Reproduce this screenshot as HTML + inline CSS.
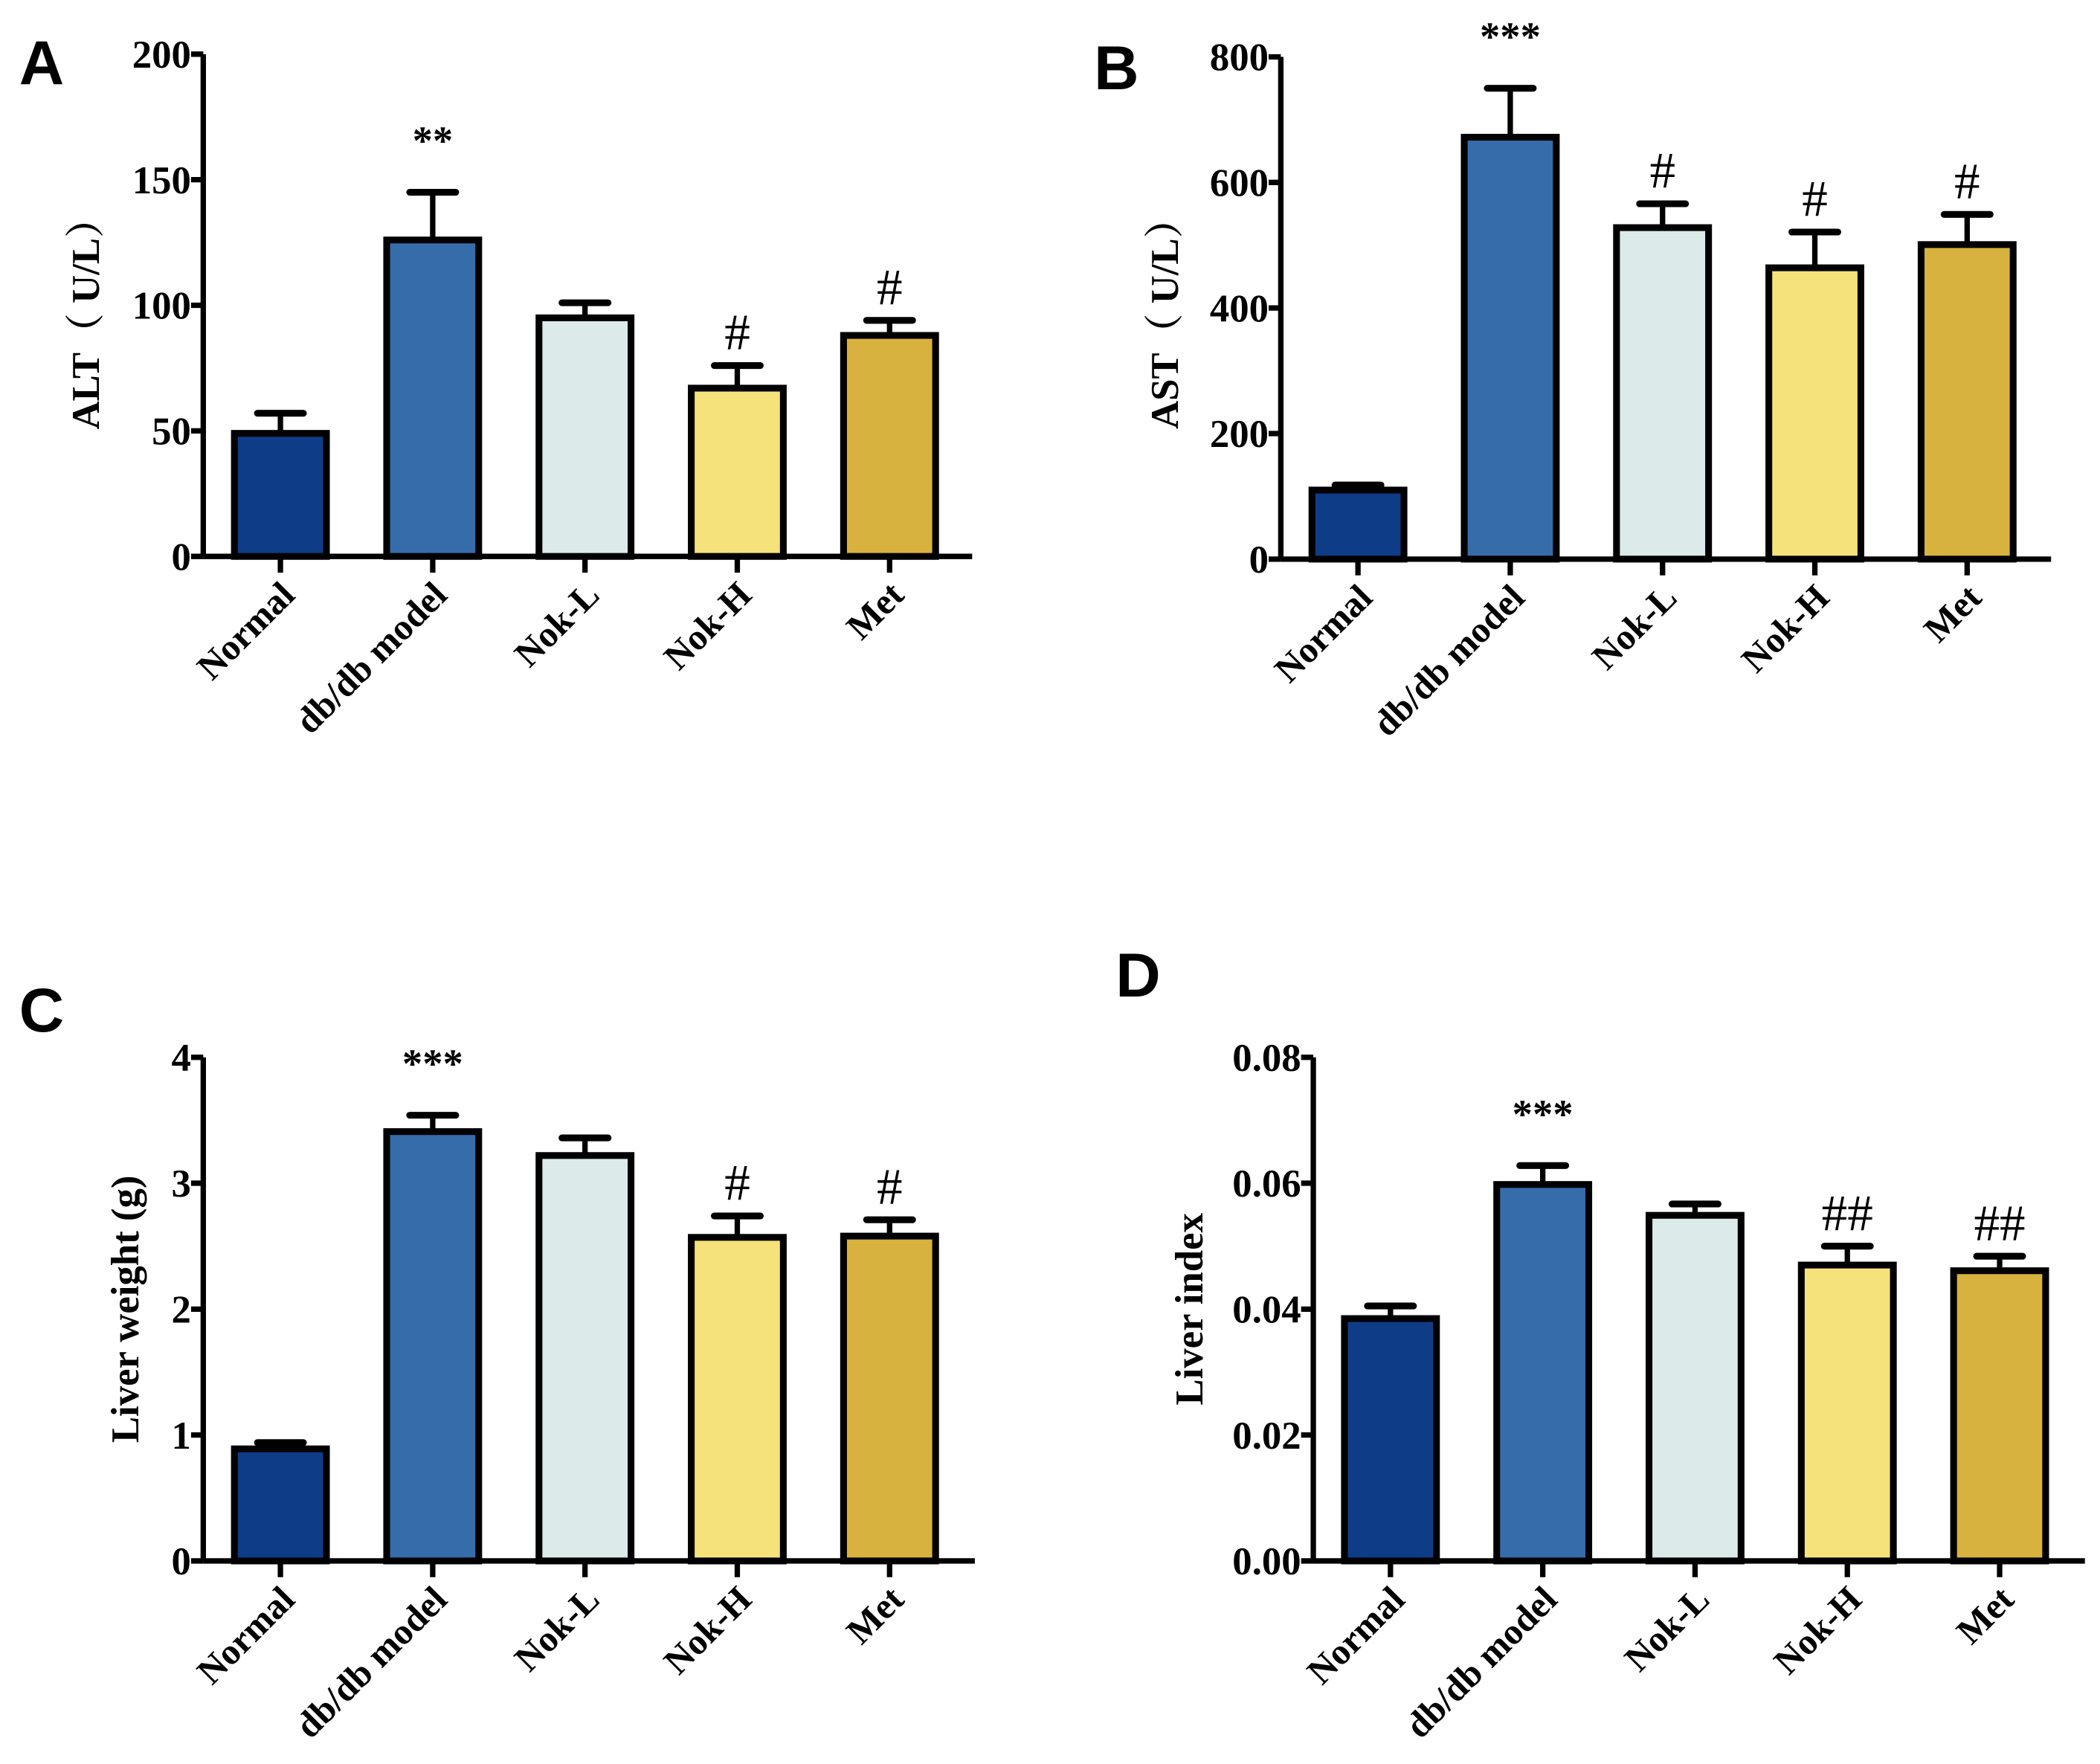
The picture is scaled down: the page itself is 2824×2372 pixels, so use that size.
<!DOCTYPE html>
<html><head><meta charset="utf-8"><style>
html,body{margin:0;padding:0;background:#fff;}
svg{display:block;}
text{font-family:"Liberation Serif","Noto Serif CJK SC",serif;font-weight:bold;fill:#000;}
.lbl{font-family:"Liberation Sans",sans-serif;font-weight:bold;}
</style></head><body>
<svg id="fig" width="2824" height="2372" viewBox="0 0 1551 1303" xmlns="http://www.w3.org/2000/svg"></svg>
<script>
const categories = ["Normal","db/db model","Nok-L","Nok-H","Met"];
const colors = ["#0f3c87","#376caa","#dceaea","#f6e27a","#d8b23e"];
const altValues = [49,126,95,67,88];
const altErrors = [8,19,6,9,6];
const altSig = ["","**","","#","#"];
const astValues = [110,672,528,464,501];
const astErrors = [8,78,38,57,48];
const astSig = ["","***","#","#","#"];
const weightValues = [0.89,3.41,3.22,2.57,2.58];
const weightErrors = [0.05,0.13,0.14,0.17,0.13];
const weightSig = ["","***","","#","#"];
const indexValues = [0.0385,0.0598,0.0549,0.047,0.0461];
const indexErrors = [0.002,0.003,0.0018,0.003,0.0023];
const indexSig = ["","***","","##","##"];
const altTicks = [0,50,100,150,200];
const astTicks = [0,200,400,600,800];
const weightTicks = [0,1,2,3,4];
const indexTicks = [0,0.02,0.04,0.06,0.08];
const indexTickLabels = ["0.00","0.02","0.04","0.06","0.08"];

const NS="http://www.w3.org/2000/svg";
const svg=document.getElementById('fig');
function mk(tag,attrs,parent){const e=document.createElementNS(NS,tag);for(const k in attrs)e.setAttribute(k,attrs[k]);(parent||svg).appendChild(e);return e;}

function panel(o){
  const g=mk('g',{});
  
  
  const yScale=v=>o.y0-(v-o.min)/(o.max-o.min)*(o.y0-o.y1);
  const xScale=i=>o.x0+57+i*112.5;
  const bw=68;
  const L=mk('text',{x:o.lx,y:o.ly,'font-size':46,class:'lbl'},g);L.textContent=o.letter;
  
  
  o.values.forEach((v,i)=>{
    const cx=xScale(i), top=yScale(v), et=yScale(v+o.errors[i]);
    const eb=mk('line',{x1:cx,x2:cx,y1:top,y2:et,stroke:'#000','stroke-width':4},g);
    
    
    const cap=mk('line',{x1:cx-17,x2:cx+17,y1:et,y2:et,stroke:'#000','stroke-width':5,'stroke-linecap':'round'},g);
    
    
    const r=mk('rect',{x:cx-bw/2,y:top,width:bw,height:o.y0-top,fill:colors[i],stroke:'#000','stroke-width':5},g);
    
    
    const s=o.sig[i];
    if(s){
      const isHash=s[0]==='#';
      const t=mk('text',{x:cx,y:et-(isHash?12:28),'text-anchor':'middle','font-size':isHash?38:30},g);
      t.style.fontWeight=isHash?'normal':'bold';
      t.textContent=s;
      
      
    }
    const tk=mk('line',{x1:cx,x2:cx,y1:o.y0,y2:o.y0+12,stroke:'#000','stroke-width':4},g);
    
    
    const ct=mk('text',{x:0,y:0,'text-anchor':'end','font-size':27,transform:`translate(${cx+12},${o.y0+30}) rotate(-45)`},g);
    ct.textContent=categories[i];
    
    
  });
  const ya=mk('line',{x1:o.x0,x2:o.x0,y1:o.y1,y2:o.y0,stroke:'#000','stroke-width':4},g);
  
  
  const xa=mk('line',{x1:o.x0,x2:o.xEnd,y1:o.y0,y2:o.y0,stroke:'#000','stroke-width':4},g);
  
  
  o.ticks.forEach((v,i)=>{
    const y=yScale(v);
    const tl=mk('line',{x1:o.x0-9,x2:o.x0,y1:y,y2:y,stroke:'#000','stroke-width':4},g);
    
    
    const tt=mk('text',{x:o.x0-9,y:y+10,'text-anchor':'end','font-size':29},g);
    tt.textContent=o.tickLabels?o.tickLabels[i]:String(v);
    
    
  });
  const yt=mk('text',{x:0,y:0,'text-anchor':'middle','font-size':29,transform:`translate(${o.tx},${o.ty||(o.y0+o.y1)/2}) rotate(-90)`},g);
  yt.textContent=o.title;
  
  
}

panel({name:'panel-a-alt',letter:'A',lx:14,ly:62,x0:150,xEnd:718,y0:411,y1:40,min:0,max:200,values:altValues,errors:altErrors,sig:altSig,ticks:altTicks,title:'ALT（ U/L）',tx:73,ty:232});
panel({name:'panel-b-ast',letter:'B',lx:808,ly:66,x0:946,xEnd:1515,y0:413,y1:42,min:0,max:800,values:astValues,errors:astErrors,sig:astSig,ticks:astTicks,title:'AST（ U/L）',tx:870,ty:232});
panel({name:'panel-c-liver-weight',letter:'C',lx:14,ly:762,x0:150,xEnd:720,y0:1153,y1:781,min:0,max:4,values:weightValues,errors:weightErrors,sig:weightSig,ticks:weightTicks,title:'Liver weight (g)',tx:102});
panel({name:'panel-d-liver-index',letter:'D',lx:824,ly:736,x0:970,xEnd:1540,y0:1153,y1:781,min:0,max:0.08,values:indexValues,errors:indexErrors,sig:indexSig,ticks:indexTicks,tickLabels:indexTickLabels,title:'Liver index',tx:888});
</script>
</body></html>
